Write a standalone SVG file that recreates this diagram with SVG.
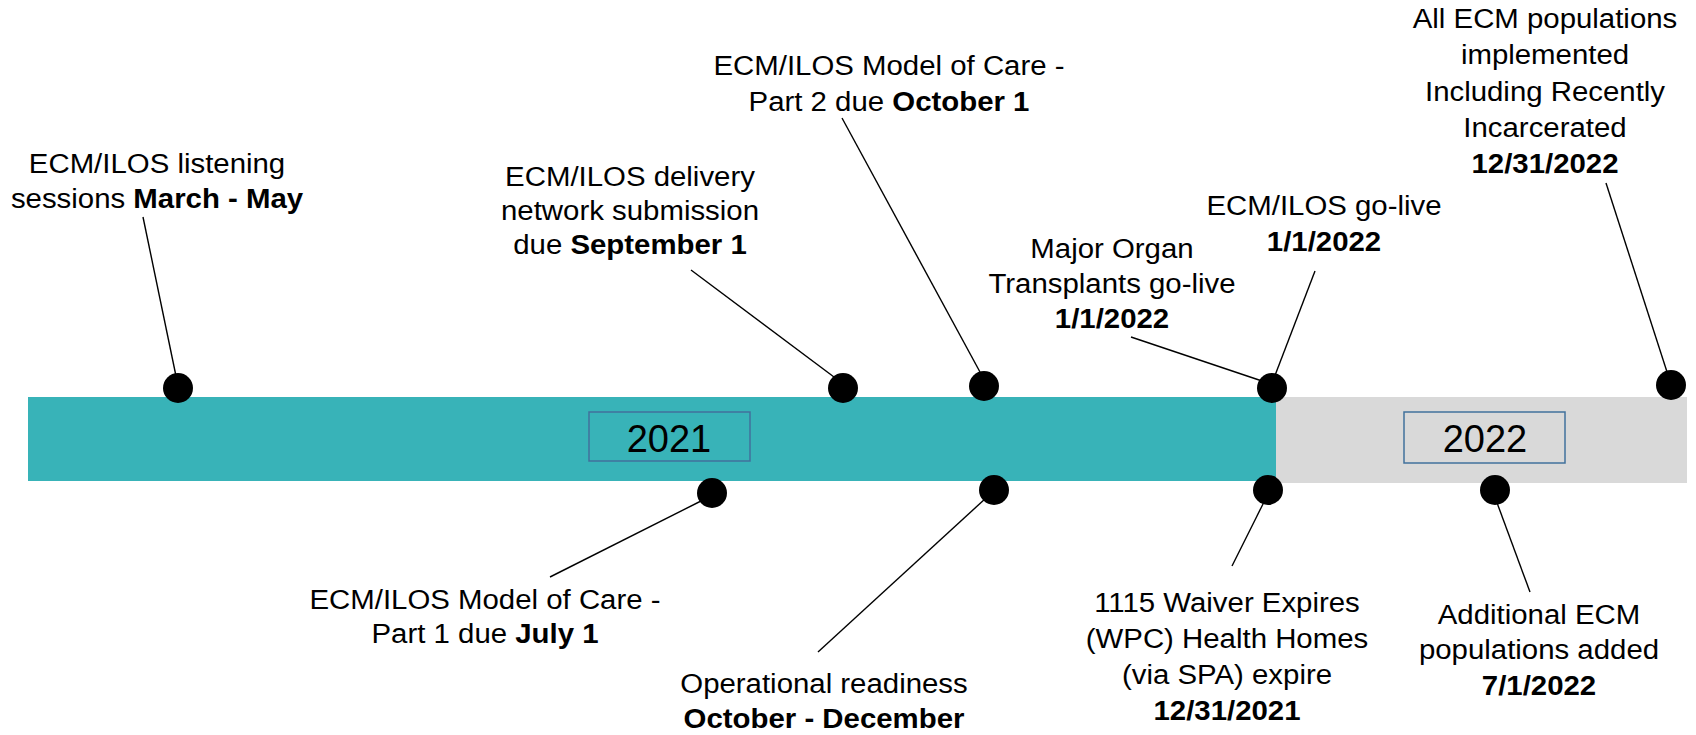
<svg xmlns="http://www.w3.org/2000/svg" width="1696" height="735" viewBox="0 0 1696 735">
<defs>
<style>
.lbl{font-family:"Liberation Sans",Arial,sans-serif;font-size:28px;fill:#000;text-anchor:middle}
.b{font-weight:bold}
.yr{font-family:"Liberation Sans",Arial,sans-serif;font-size:38px;fill:#000;text-anchor:middle}
.ybox{fill:none;stroke:#41719C;stroke-width:1.5}
.dot{fill:#000}
.con line{stroke:#000;stroke-width:1.4}
</style>
</defs>
<rect width="1696" height="735" fill="#fff"/>
<g id="timeline">
<rect x="28" y="397" width="1248" height="84" fill="#38B3B8"/>
<rect x="1276" y="397" width="411" height="86" fill="#D9D9D9"/>
</g>
<g id="year-2021">
<rect class="ybox" x="589" y="412" width="161" height="49"/>
<text class="yr" x="669" y="452">2021</text>
</g>
<g id="year-2022">
<rect class="ybox" x="1404" y="412" width="161" height="51"/>
<text class="yr" x="1485" y="452">2022</text>
</g>
<g id="connectors" class="con">
<line x1="143" y1="217" x2="176" y2="376"/>
<line x1="691" y1="270" x2="838" y2="380"/>
<line x1="842" y1="118" x2="980" y2="372"/>
<line x1="1131" y1="337" x2="1265" y2="382"/>
<line x1="1315" y1="271" x2="1274" y2="378"/>
<line x1="1606" y1="183" x2="1668" y2="375"/>
<line x1="703" y1="500" x2="550" y2="577"/>
<line x1="986" y1="498" x2="818" y2="652"/>
<line x1="1265" y1="500" x2="1232" y2="566"/>
<line x1="1496" y1="500" x2="1530" y2="592"/>
</g>
<g id="m-listening">
<circle class="dot" cx="178" cy="388" r="15"/>
<text class="lbl" transform="translate(157 0) scale(1.05 1)"><tspan x="0" y="173">ECM/ILOS listening</tspan><tspan x="0" y="208">sessions <tspan class="b">March - May</tspan></tspan></text>
</g>
<g id="m-delivery">
<circle class="dot" cx="843" cy="388" r="15"/>
<text class="lbl" transform="translate(630 0) scale(1.05 1)"><tspan x="0" y="186">ECM/ILOS delivery</tspan><tspan x="0" y="220">network submission</tspan><tspan x="0" y="254">due <tspan class="b">September 1</tspan></tspan></text>
</g>
<g id="m-moc2">
<circle class="dot" cx="984" cy="386" r="15"/>
<text class="lbl" transform="translate(889 0) scale(1.05 1)"><tspan x="0" y="75">ECM/ILOS Model of Care -</tspan><tspan x="0" y="111">Part 2 due <tspan class="b">October 1</tspan></tspan></text>
</g>
<g id="m-transplants">
<text class="lbl" transform="translate(1112 0) scale(1.05 1)"><tspan x="0" y="258">Major Organ</tspan><tspan x="0" y="293">Transplants go-live</tspan><tspan x="0" y="328" class="b">1/1/2022</tspan></text>
</g>
<g id="m-golive">
<circle class="dot" cx="1272" cy="388" r="15"/>
<text class="lbl" transform="translate(1324 0) scale(1.05 1)"><tspan x="0" y="215">ECM/ILOS go-live</tspan><tspan x="0" y="251" class="b">1/1/2022</tspan></text>
</g>
<g id="m-allecm">
<circle class="dot" cx="1671" cy="385" r="15"/>
<text class="lbl" transform="translate(1545 0) scale(1.05 1)"><tspan x="0" y="28">All ECM populations</tspan><tspan x="0" y="64">implemented</tspan><tspan x="0" y="101">Including Recently</tspan><tspan x="0" y="137">Incarcerated</tspan><tspan x="0" y="173" class="b">12/31/2022</tspan></text>
</g>
<g id="m-moc1">
<circle class="dot" cx="712" cy="493" r="15"/>
<text class="lbl" transform="translate(485 0) scale(1.05 1)"><tspan x="0" y="609">ECM/ILOS Model of Care -</tspan><tspan x="0" y="643">Part 1 due <tspan class="b">July 1</tspan></tspan></text>
</g>
<g id="m-readiness">
<circle class="dot" cx="994" cy="490" r="15"/>
<text class="lbl" transform="translate(824 0) scale(1.05 1)"><tspan x="0" y="693">Operational readiness</tspan><tspan x="0" y="728" class="b">October - December</tspan></text>
</g>
<g id="m-waiver">
<circle class="dot" cx="1268" cy="490" r="15"/>
<text class="lbl" transform="translate(1227 0) scale(1.05 1)"><tspan x="0" y="612">1115 Waiver Expires</tspan><tspan x="0" y="648">(WPC) Health Homes</tspan><tspan x="0" y="684">(via SPA) expire</tspan><tspan x="0" y="720" class="b">12/31/2021</tspan></text>
</g>
<g id="m-additional">
<circle class="dot" cx="1495" cy="490" r="15"/>
<text class="lbl" transform="translate(1539 0) scale(1.05 1)"><tspan x="0" y="624">Additional ECM</tspan><tspan x="0" y="659">populations added</tspan><tspan x="0" y="695" class="b">7/1/2022</tspan></text>
</g>
</svg>
